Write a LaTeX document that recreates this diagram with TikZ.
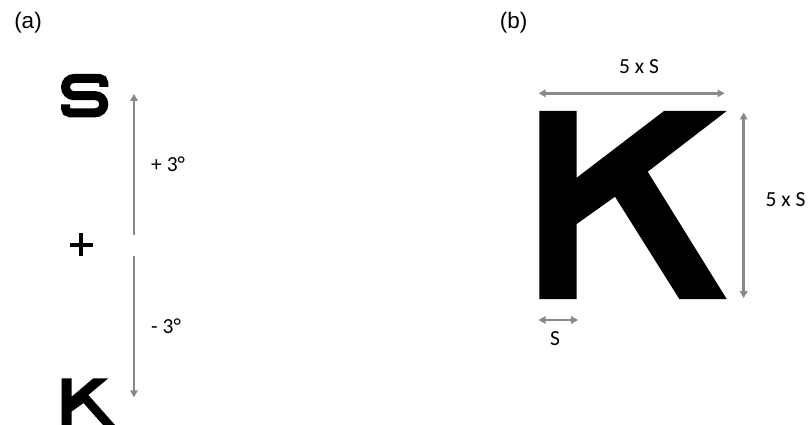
\documentclass[tikz,border=0pt]{standalone}
\usepackage{fontspec}
\setmainfont{Carlito}
\newfontfamily\arialfont{Liberation Sans}
\usetikzlibrary{arrows.meta}
\definecolor{dimgray}{RGB}{136,136,136}
\tikzset{
  dimline/.style={draw=dimgray, line width=2.6pt},
  dimtip/.tip={Triangle[length=7pt,width=7.5pt]},
  lbl/.style={inner sep=0pt, font=\fontsize{21.5}{25}\selectfont},
  panel/.style={inner sep=0pt, font=\arialfont\fontsize{22.5}{27}\selectfont},
  letter/.style={fill=black, draw=none}
}
\begin{document}
\begin{tikzpicture}[x=1pt, y=1pt]
\useasboundingbox (0,0) rectangle (808,-425);
% (a): S nahore, fixacni kriz, K dole
\node[panel, anchor=base] (panelA) at (28,-29) {(a)};
\draw[line width=9pt] (103.8,-87) -- (103.8,-83)
  arc[start angle=0, end angle=90, radius=4.5] -- (74.1,-78.5)
  arc[start angle=90, end angle=270, radius=8.575] -- (95.2,-95.65)
  arc[start angle=90, end angle=-90, radius=8.575] -- (70,-112.8)
  arc[start angle=270, end angle=180, radius=4.5] -- (65.5,-104.5);
\draw[line width=4pt] (70,-244.7) -- (92.6,-244.7) (81.3,-233.4) -- (81.3,-256);
\fill[letter] (61.7,-378.3) -- (71.7,-378.3) -- (71.7,-396.7) -- (93.3,-378.3)
  -- (108.3,-378.3) -- (88.3,-395) -- (115,-425) -- (103,-425) -- (83.5,-403)
  -- (71.7,-411.5) -- (71.7,-425) -- (61.7,-425) -- cycle;
\coordinate (upBase) at (134,-235);
\coordinate (upTip) at (134,-94);
\coordinate (downBase) at (134,-256);
\coordinate (downTip) at (134,-397.3);
\draw[dimline, -{dimtip}] (upBase) -- (upTip);
\draw[dimline, -{dimtip}] (downBase) -- (downTip);
\node[lbl, anchor=base west] (degUp) at (151,-171.7) {+ 3°};
\node[lbl, anchor=base west] (degDown) at (151,-333) {- 3°};
% (b): K o vysce 5 x S
\node[panel, anchor=base] (panelB) at (513.5,-29) {(b)};
\fill[letter] (539.3,-111) -- (576.7,-111) -- (576.7,-177.7) -- (664,-111)
  -- (726.7,-111) -- (647.7,-171.7) -- (726.7,-299) -- (679.3,-299)
  -- (615,-196.7) -- (576.7,-224) -- (576.7,-299) -- (539.3,-299) -- cycle;
\coordinate (wLeft) at (538.7,-93.3);
\coordinate (wRight) at (724.5,-93.3);
\coordinate (hTop) at (743.7,-112.5);
\coordinate (hBottom) at (743.7,-298);
\coordinate (sLeft) at (538.5,-320);
\coordinate (sRight) at (578,-320);
\draw[dimline, {dimtip}-{dimtip}] (wLeft) -- (wRight);
\draw[dimline, {dimtip}-{dimtip}] (hTop) -- (hBottom);
\draw[dimline, {dimtip}-{dimtip}] (sLeft) -- (sRight);
\node[lbl, anchor=base] (widthLbl) at (639,-73.3) {5 x S};
\node[lbl, anchor=base] (heightLbl) at (785.5,-206.7) {5 x S};
\node[lbl, anchor=base] (strokeLbl) at (555,-345.7) {S};
\end{tikzpicture}
\end{document}
